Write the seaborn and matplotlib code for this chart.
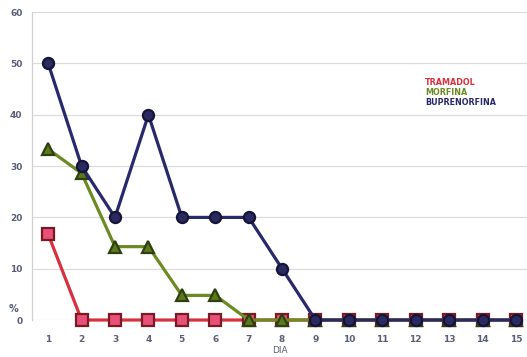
import numpy as np
import pandas as pd
import matplotlib
matplotlib.use("Agg")
import matplotlib.pyplot as plt
import seaborn as sns

# datos
dias = list(range(1, 16))
tramadol = [16.7, 0, 0, 0, 0, 0, 0, 0, 0, 0, 0, 0, 0, 0, 0]
morfina = [33.3, 28.6, 14.3, 14.3, 4.8, 4.8, 0, 0, 0, 0, 0, 0, 0, 0, 0]
buprenorfina = [50, 30, 20, 40, 20, 20, 20, 10, 0, 0, 0, 0, 0, 0, 0]
series = ["TRAMADOL", "MORFINA", "BUPRENORFINA"]
colores = ["#d8303c", "#6a8a22", "#28296b"]
bordes = ["#7a1a22", "#2f3f10", "#141438"]
caras = ["#e8507a", "#5a7a1c", "#2a2a60"]
marcadores = ["s", "^", "o"]

df = pd.DataFrame({"DIA": dias * 3,
                   "valor": tramadol + morfina + buprenorfina,
                   "serie": np.repeat(series, len(dias))})

sns.set_style("white")
fig = plt.figure(figsize=(5.27, 3.57), dpi=100)
ax = fig.add_axes([0.061, 0.1036, 0.939, 0.8624])

for s, c, b, f, m in zip(series, colores, bordes, caras, marcadores):
    sub = df[df["serie"] == s]
    sns.lineplot(data=sub, x="DIA", y="valor", color=c, linewidth=2.3,
                 marker=m, markersize=8, markerfacecolor=f, markeredgecolor=b,
                 markeredgewidth=1.6, clip_on=False, ax=ax, legend=False)

ax.set_xlim(0.52, 15.33)
ax.set_ylim(0, 60)
ax.set_yticks(range(0, 61, 10))
ax.set_xticks(dias)
ax.grid(axis="y", color="#dcdcdc", linewidth=0.9)
ax.grid(axis="x", visible=False)
for sp in ["top", "right", "bottom"]:
    ax.spines[sp].set_visible(False)
ax.spines["left"].set_color("#d0d0d0")
ax.spines["left"].set_linewidth(0.9)
ax.tick_params(axis="both", length=0, labelsize=6.5, labelcolor="#5a5f78")
ax.tick_params(axis="y", pad=7)
ax.tick_params(axis="x", pad=11)
for t in ax.get_xticklabels() + ax.get_yticklabels():
    t.set_fontweight("bold")
ax.set_xlabel("DIA", fontsize=6.5, color="#5a5f78", labelpad=1)
ax.set_ylabel("")
fig.text(0.016, 0.125, "%", fontsize=7, color="#5a5f78", fontweight="bold")

# leyenda solo texto
for i, (s, c) in enumerate(zip(series, colores)):
    fig.text(0.806, 0.77 - i * 0.028, s, fontsize=5.8, color=c,
             fontweight="bold", va="center")

fig.savefig("out.png", dpi=100)
